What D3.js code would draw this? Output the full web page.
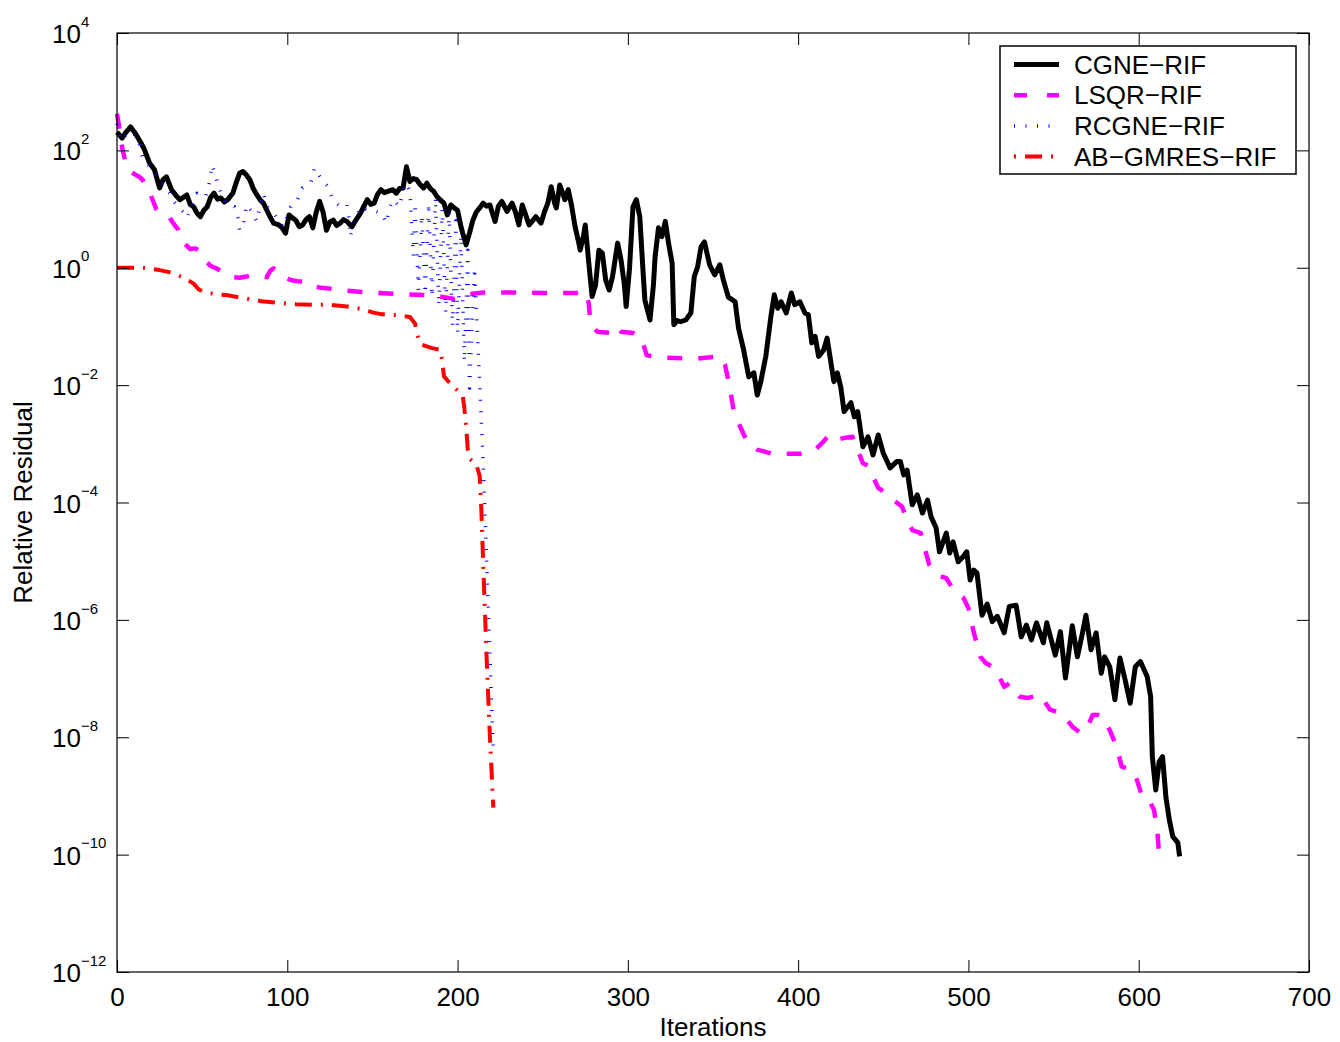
<!DOCTYPE html>
<html>
<head>
<meta charset="utf-8">
<script src="https://cdn.jsdelivr.net/npm/d3@7"></script>
<style>
  body { margin: 0; background: #fff; }
  text { font-family: "Liberation Sans", Arial, Helvetica, sans-serif; fill: #000; }
</style>
</head>
<body>
<script>
// ----- data: [iteration, log10(relative residual)] -----
const cgne = [
  [0,2.31],[3,2.21],[5,2.30],[8,2.40],[11,2.28],[14,2.13],[16,2.02],[19,1.79],[22,1.67],[25,1.36],
  [27,1.50],[29,1.55],[32,1.33],[35,1.22],[37,1.16],[41,1.24],[43,1.08],[45,1.04],[47,0.93],[49,0.87],
  [51,0.98],[53,1.04],[55,1.20],[57,1.27],[59,1.17],[61,1.19],[63,1.12],[65,1.16],[68,1.27],[70,1.45],
  [72,1.61],[74,1.64],[76,1.58],[78,1.50],[80,1.35],[82,1.25],[84,1.16],[86,1.10],[88,0.98],[90,0.86],
  [92,0.76],[95,0.73],[97,0.68],[99,0.59],[101,0.90],[103,0.85],[105,0.81],[107,0.70],[109,0.73],[111,0.82],
  [113,0.87],[115,0.68],[117,0.95],[119,1.13],[121,0.95],[123,0.64],[125,0.78],[127,0.81],[129,0.72],[131,0.76],
  [133,0.82],[135,0.79],[138,0.70],[140,0.80],[143,0.93],[145,1.05],[147,1.16],[149,1.08],[151,1.10],[153,1.25],
  [155,1.33],[157,1.28],[159,1.30],[162,1.33],[164,1.27],[166,1.35],[168,1.36],[170,1.72],[172,1.47],[174,1.52],
  [176,1.50],[178,1.42],[180,1.36],[182,1.44],[184,1.35],[186,1.30],[188,1.21],[190,1.15],[192,1.10],[194,0.90],
  [196,1.07],[198,1.02],[200,0.98],[202,0.70],[203,0.59],[205,0.39],[207,0.59],[209,0.81],[211,0.95],[213,1.02],
  [215,1.10],[217,1.05],[219,1.07],[222,0.79],[224,1.05],[226,1.13],[229,0.96],[232,1.10],[234,0.95],[236,0.73],
  [238,1.07],[240,0.90],[242,0.73],[244,0.80],[246,0.87],[249,0.76],[251,0.95],[253,1.10],[255,1.38],[257,1.10],
  [258,1.02],[260,1.41],[262,1.25],[263,1.16],[265,1.33],[267,1.05],[269,0.70],[271,0.45],[272,0.30],[274,0.55],
  [275,0.73],[277,0.10],[279,-0.49],[281,-0.30],[283,0.30],[285,0.25],[287,-0.21],[289,-0.38],[291,-0.15],[294,0.42],
  [296,0.13],[298,-0.30],[299,-0.66],[301,0.00],[303,1.04],[305,1.16],[307,0.87],[309,-0.10],[310,-0.55],[313,-0.89],
  [315,-0.30],[316,0.19],[318,0.68],[320,0.53],[322,0.79],[324,0.40],[326,0.08],[327,-0.97],[329,-0.90],[331,-0.92],
  [334,-0.89],[337,-0.77],[339,-0.15],[341,0.02],[343,0.36],[345,0.44],[348,0.05],[351,-0.12],[354,0.05],[356,-0.20],
  [359,-0.50],[363,-0.58],[365,-1.03],[368,-1.40],[371,-1.86],[374,-1.79],[376,-2.17],[378,-1.95],[381,-1.51],[384,-0.83],
  [386,-0.46],[388,-0.69],[390,-0.58],[393,-0.77],[396,-0.43],[398,-0.63],[401,-0.58],[404,-0.77],[406,-0.80],[408,-1.28],
  [410,-1.17],[412,-1.51],[415,-1.40],[417,-1.20],[419,-1.57],[421,-1.94],[423,-1.79],[425,-2.03],[427,-2.45],[431,-2.30],
  [433,-2.54],[435,-2.45],[438,-3.05],[441,-2.88],[444,-3.19],[447,-2.85],[450,-3.16],[454,-3.41],[458,-3.30],[460,-3.30],
  [462,-3.53],[464,-3.45],[467,-4.04],[470,-3.87],[473,-4.18],[476,-3.96],[478,-4.24],[481,-4.43],[483,-4.84],[487,-4.52],
  [489,-4.86],[491,-4.67],[494,-5.01],[497,-4.92],[499,-4.84],[501,-5.32],[503,-5.15],[505,-5.20],[508,-5.92],[511,-5.73],
  [514,-6.03],[517,-5.94],[521,-6.22],[524,-5.77],[528,-5.75],[531,-6.29],[534,-6.09],[537,-6.34],[540,-6.05],[544,-6.39],
  [546,-6.05],[551,-6.60],[554,-6.20],[557,-6.99],[561,-6.10],[564,-6.63],[567,-6.22],[569,-5.92],[572,-6.51],[575,-6.22],
  [578,-6.91],[580,-6.63],[583,-6.80],[586,-7.36],[589,-6.65],[592,-7.02],[595,-7.42],[598,-6.80],[601,-6.71],[605,-6.97],
  [607,-7.31],[608,-8.33],[610,-8.90],[612,-8.42],[614,-8.33],[616,-9.03],[618,-9.41],[620,-9.69],[623,-9.80],[624,-10.03]
];

const lsqr = [
  [0,2.62],[1,2.45],[3,2.05],[5,1.80],[7,1.65],[10,1.60],[13,1.55],[15,1.50],[17,1.40],[19,1.30],
  [21,1.15],[23,1.00],[25,0.92],[28,0.88],[31,0.85],[34,0.72],[36,0.65],[38,0.48],[40,0.40],[43,0.32],
  [46,0.33],[48,0.30],[50,0.20],[52,0.12],[55,0.03],[59,-0.02],[64,-0.12],[68,-0.16],[72,-0.17],[76,-0.15],
  [80,-0.12],[84,-0.14],[88,-0.16],[90,-0.05],[92,-0.01],[95,-0.08],[98,-0.15],[102,-0.21],[106,-0.23],[111,-0.24],
  [115,-0.32],[120,-0.34],[127,-0.36],[135,-0.39],[147,-0.42],[166,-0.45],[186,-0.47],[192,-0.50],[198,-0.53],[203,-0.50],
  [207,-0.45],[215,-0.42],[225,-0.42],[250,-0.43],[270,-0.43],[275,-0.41],[277,-0.60],[278,-0.94],[282,-1.09],[290,-1.11],
  [294,-1.00],[296,-1.09],[303,-1.11],[308,-1.20],[311,-1.49],[320,-1.53],[340,-1.55],[354,-1.51],[357,-1.65],[360,-2.05],
  [362,-2.42],[366,-2.71],[370,-2.96],[376,-3.10],[385,-3.17],[401,-3.17],[410,-3.10],[415,-2.96],[418,-2.85],[423,-2.93],
  [427,-2.90],[432,-2.88],[435,-3.10],[438,-3.33],[442,-3.39],[444,-3.56],[447,-3.75],[449,-3.79],[456,-3.96],[461,-4.07],
  [464,-4.30],[467,-4.47],[472,-4.52],[474,-4.75],[477,-5.06],[481,-5.23],[487,-5.29],[490,-5.43],[497,-5.62],[500,-5.80],
  [503,-6.20],[507,-6.63],[510,-6.73],[514,-6.80],[517,-6.91],[521,-7.14],[524,-7.08],[530,-7.31],[535,-7.33],[542,-7.28],
  [548,-7.53],[554,-7.59],[557,-7.67],[561,-7.82],[566,-7.93],[570,-7.82],[573,-7.62],[576,-7.62],[579,-7.65],[583,-7.88],
  [587,-8.16],[590,-8.50],[596,-8.55],[599,-8.73],[602,-9.01],[606,-9.07],[609,-9.24],[611,-9.63],[612,-10.00]
];

const rcgne = [
  [0,2.45],[2,2.17],[5,2.25],[8,2.32],[11,2.25],[13,2.12],[15,1.89],[19,1.72],[22,1.62],[25,1.50],
  [28,1.40],[31,1.27],[33,1.15],[35,1.07],[37,1.00],[39,0.95],[41,0.85],[43,1.00],[45,1.15],[47,1.27],
  [50,1.22],[52,1.21],[54,1.41],[56,1.75],[57,1.64],[58,1.55],[60,1.36],[62,1.20],[65,1.07],[67,1.05],
  [69,1.04],[71,0.85],[72,0.64],[74,0.68],[76,1.07],[78,1.00],[80,0.93],[82,0.79],[84,1.05],[86,1.27],
  [88,1.04],[90,0.98],[92,0.93],[94,0.85],[96,0.75],[98,0.70],[100,0.90],[102,1.04],[104,1.10],[106,1.16],
  [109,1.36],[112,1.40],[114,1.47],[116,1.70],[118,1.60],[120,1.51],[122,1.45],[124,1.38],[126,1.21],[128,1.12],
  [130,1.07],[133,1.08],[135,1.10],[136,0.90],[137,0.53],[139,0.75],[141,0.87],[143,1.04],[146,1.00],[150,0.98],
  [153,0.95],[156,0.92],[158,0.76],[160,1.00],[162,1.16],[164,1.10],[166,1.04],[168,1.33],[170,1.44],[172,1.30],
  [174,0.20],[175,1.10],[177,-0.38],[179,0.90],[181,-0.45],[183,1.10],[185,-0.50],[187,1.20],[189,-0.65],[191,1.00],
  [193,-0.76],[195,0.95],[197,-1.00],[199,0.80],[200,-1.12],[202,0.55],[204,-1.60],[206,0.30],[207,-2.05],[210,0.00],
  [215,-3.30],[221,-8.25]
];

const abgmres = [
  [0,0.00],[5,0.00],[10,0.00],[15,0.00],[20,-0.02],[25,-0.04],[30,-0.07],[35,-0.12],[40,-0.18],[45,-0.27],
  [48,-0.37],[52,-0.42],[58,-0.45],[65,-0.47],[75,-0.52],[85,-0.57],[95,-0.60],[105,-0.62],[115,-0.63],[125,-0.63],
  [135,-0.66],[145,-0.71],[150,-0.76],[155,-0.79],[165,-0.81],[172,-0.84],[175,-0.95],[176,-1.10],[178,-1.30],[181,-1.33],
  [185,-1.37],[190,-1.40],[191,-1.60],[192,-1.85],[195,-1.95],[201,-2.12],[203,-2.17],[204,-2.40],[205,-2.70],[206,-3.10],
  [207,-3.25],[211,-3.35],[213,-3.55],[214,-4.15],[215,-5.00],[216,-5.80],[217,-6.60],[218,-7.30],[219,-8.00],[220,-8.60],
  [221,-9.20]
];

const xTicks = [0, 100, 200, 300, 400, 500, 600, 700];
const yExponents = [4, 2, 0, -2, -4, -6, -8, -10, -12];
const seriesNames = ['CGNE\u2212RIF', 'LSQR\u2212RIF', 'RCGNE\u2212RIF', 'AB\u2212GMRES\u2212RIF'];

// ----- svg -----
const W = 1340, H = 1042;
const pLeft = 117, pRight = 1309, pTop = 33, pBottom = 972;

const svg = d3.select('body').append('svg')
  .attr('width', W)
  .attr('height', H);

const x = d3.scaleLinear().domain([0, 700]).range([pLeft, pRight]);
const y = d3.scaleLog().domain([1e-12, 1e4]).range([pBottom, pTop]);

const fs = 26;

// ----- lines -----
const line = d3.line()
  .x(d => x(d[0]))
  .y(d => y(Math.pow(10, d[1])));

const styles = [
  { data: cgne,    color: '#000000', width: 5,   dash: null,        legendDash: null },
  { data: lsqr,    color: '#ff00ff', width: 4.5, dash: '15,16',     legendDash: '13,20' },
  { data: rcgne,   color: '#0000ff', width: 3.5, dash: '1,10.5',    legendDash: '1,10.5' },
  { data: abgmres, color: '#ff0000', width: 4,   dash: '17,9,2,9',  legendDash: '2,9,17,9' }
];

styles.forEach(s => {
  svg.append('path')
    .datum(s.data)
    .attr('d', line)
    .attr('fill', 'none')
    .attr('stroke', s.color)
    .attr('stroke-width', s.width)
    .attr('stroke-linejoin', 'round')
    .attr('stroke-dasharray', s.dash);
});

// ----- axes -----
const tickLen = 12;

const xb = svg.append('g')
  .attr('transform', `translate(0,${pBottom})`)
  .call(d3.axisBottom(x).tickValues(xTicks).tickSizeInner(-tickLen).tickSizeOuter(0).tickPadding(15.5));
svg.append('g')
  .attr('transform', `translate(0,${pTop})`)
  .call(d3.axisTop(x).tickValues(xTicks).tickSizeInner(-tickLen).tickSizeOuter(0).tickFormat(''));

const yVals = yExponents.map(e => Math.pow(10, e));
svg.append('g')
  .attr('transform', `translate(${pLeft},0)`)
  .call(d3.axisLeft(y).tickValues(yVals).tickSizeInner(-tickLen).tickSizeOuter(0).tickFormat(''));
svg.append('g')
  .attr('transform', `translate(${pRight},0)`)
  .call(d3.axisRight(y).tickValues(yVals).tickSizeInner(-tickLen).tickSizeOuter(0).tickFormat(''));

svg.selectAll('.domain').remove();
svg.selectAll('.tick line').attr('stroke', '#000').attr('stroke-width', 1);
xb.selectAll('text')
  .style('font-family', '"Liberation Sans", Arial, sans-serif')
  .style('font-size', fs + 'px')
  .attr('fill', '#000');

// y tick labels as 10^n
yExponents.forEach(e => {
  const ty = y(Math.pow(10, e));
  svg.append('text')
    .attr('x', 81).attr('y', ty + 10)
    .attr('text-anchor', 'end')
    .style('font-size', fs + 'px')
    .text('10');
  svg.append('text')
    .attr('x', 81).attr('y', ty - 6.3)
    .attr('text-anchor', 'start')
    .style('font-size', '15px')
    .text(e < 0 ? '\u2212' + Math.abs(e) : String(e));
});

// frame
svg.append('rect')
  .attr('x', pLeft).attr('y', pTop)
  .attr('width', pRight - pLeft).attr('height', pBottom - pTop)
  .attr('fill', 'none')
  .attr('stroke', '#000')
  .attr('stroke-width', 1.2);

// axis labels
svg.append('text')
  .attr('x', (pLeft + pRight) / 2).attr('y', 1036)
  .attr('text-anchor', 'middle')
  .style('font-size', fs + 'px')
  .text('Iterations');

svg.append('text')
  .attr('transform', `translate(32,${(pTop + pBottom) / 2}) rotate(-90)`)
  .attr('text-anchor', 'middle')
  .style('font-size', fs + 'px')
  .text('Relative Residual');

// ----- legend -----
const lg = svg.append('g');
lg.append('rect')
  .attr('x', 1000).attr('y', 46)
  .attr('width', 296).attr('height', 128)
  .attr('fill', '#fff')
  .attr('stroke', '#000')
  .attr('stroke-width', 1.5);

seriesNames.forEach((name, i) => {
  const ry = 64.5 + i * 30.7;
  const s = styles[i];
  lg.append('line')
    .attr('x1', 1014).attr('x2', 1059)
    .attr('y1', ry).attr('y2', ry)
    .attr('stroke', s.color)
    .attr('stroke-width', s.width)
    .attr('stroke-dasharray', s.legendDash);
  lg.append('text')
    .attr('x', 1074).attr('y', ry + 9)
    .style('font-size', fs + 'px')
    .text(name);
});
</script>
</body>
</html>
